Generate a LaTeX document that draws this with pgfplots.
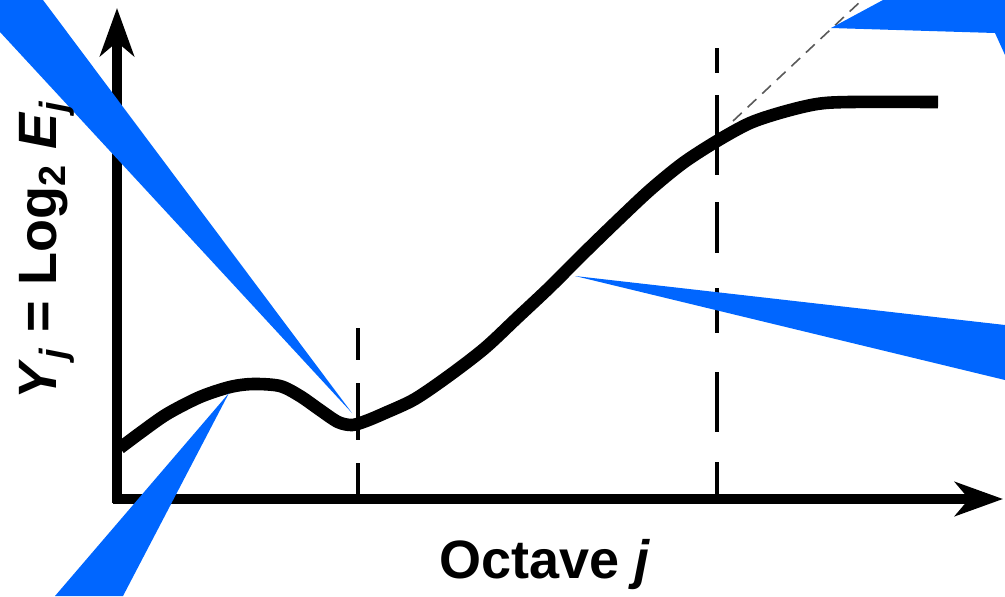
\documentclass[border=0pt]{standalone}
\usepackage{pgfplots}
\pgfplotsset{compat=1.18}
\usepackage{fontspec}
\setmainfont{Liberation Sans}
\usetikzlibrary{arrows.meta}
\definecolor{wedge}{HTML}{0066FF}
\begin{document}
\begin{tikzpicture}
\begin{axis}[
  width=502.5pt, height=298pt, scale only axis,
  xmin=0, xmax=1005, ymin=0, ymax=596, y dir=reverse,
  hide axis, clip=true,
]
\path (rel axis cs:0,0) rectangle (rel axis cs:1,1);
% dashed guides
\addplot[line width=1.6pt, dash pattern=on 16pt off 11.5pt on 28.5pt off 11.5pt on 20pt] coordinates {(358,328) (358,497)};
\addplot[line width=1.6pt, dash pattern=on 12.5pt off 11pt on 40pt off 13.5pt on 25.5pt off 17.5pt on 22.5pt off 19.5pt on 30pt off 15pt on 20pt] coordinates {(717,48) (717,497)};
\addplot[line width=0.8pt, gray!70!black, dash pattern=on 6pt off 4pt] coordinates {(733,121) (862,0)};
% axes
\addplot[line width=4.8pt, -{Stealth[length=24pt, width=17pt, inset=7pt]}] coordinates {(117,503) (117,8)};
\addplot[line width=4.8pt, -{Stealth[length=24pt, width=17pt, inset=7pt]}] coordinates {(113,499) (1003,499)};
% curve
\addplot[line width=6.3pt, smooth, line cap=butt, line join=round] coordinates {
(120,448) (140,433) (167,414) (200,397) (230,387) (253,384) (280,386)
(300,396) (320,410) (338,422) (352,425) (366,421) (385,413) (415,399)
(450,375) (485,348) (517,318) (550,287) (583,254) (617,221) (650,190)
(683,163) (717,141) (750,123) (783,112) (817,104) (850,102) (938,102)};
% callout wedges
\addplot[fill=wedge, draw=none] coordinates {(0,32) (0,0) (43,0) (352,413)} -- cycle;
\addplot[fill=wedge, draw=none] coordinates {(229,393) (123,596) (55,596)} -- cycle;
\addplot[fill=wedge, draw=none] coordinates {(575,276) (1005,325) (1005,380)} -- cycle;
\addplot[fill=wedge, draw=none] coordinates {(831,28) (883,0) (1005,0) (1005,55) (995,33)} -- cycle;
% labels
\node[rotate=90, font=\bfseries\fontsize{27}{27}\selectfont] at (axis cs:47,250)
  {\textit{Y}\textsubscript{\textit{j}} = Log\textsubscript{2} \textit{E}\textsubscript{\textit{j}}};
\node[font=\bfseries\fontsize{27}{27}\selectfont] at (axis cs:545,565) {Octave \textit{j}};
\end{axis}
\end{tikzpicture}
\end{document}
